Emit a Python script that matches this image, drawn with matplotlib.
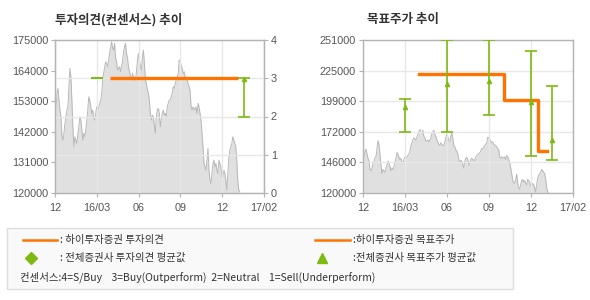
import numpy as np
import matplotlib
matplotlib.use('Agg')
from matplotlib import pyplot as plt
from matplotlib.patches import Rectangle
from matplotlib.lines import Line2D

plt.rcParams['font.family'] = ['Noto Sans CJK KR', 'DejaVu Sans']

# x axis: months since 2015-12 (ticks every quarter, as drawn)
tick_pos = [0, 3, 6, 9, 12, 15]
tick_lab = ['12', '16/03', '06', '09', '12', '17/02']

# daily close (2015-12 .. 2017-01)
price = [150400, 151000, 155800, 157600, 153400, 149800, 147400, 140200, 139000, 141400,
         145000, 147400, 149800, 151000, 158200, 164800, 161800, 153400, 143800, 136600,
         140200, 139000, 137800, 141400, 143800, 147400, 146200, 142600, 139000, 141400,
         140200, 142600, 146200, 149800, 154600, 153400, 151000, 148600, 149800, 146800,
         146200, 148600, 151000, 149800, 151000, 152200, 153400, 155800, 160600, 163000,
         165400, 167200, 166600, 165400, 167800, 170200, 172600, 174400, 172000, 171400,
         173800, 168400, 167200, 164200, 164800, 165400, 163600, 165400, 167200, 170800,
         172600, 173800, 170200, 168400, 165400, 163600, 161800, 160600, 163000, 161800,
         160600, 160600, 163600, 167800, 170200, 167800, 165400, 164200, 169000, 171400,
         166600, 160600, 159400, 157000, 155800, 153400, 148600, 146200, 148000, 147400,
         144400, 141400, 147400, 149800, 150400, 148600, 143800, 146200, 148600, 149800,
         148000, 148600, 147400, 151000, 152200, 153400, 153400, 154600, 155800, 158200,
         157600, 159400, 160600, 161800, 163000, 167800, 167200, 166000, 164800, 163000,
         163600, 161800, 161200, 160600, 159400, 158200, 157000, 151000, 149800, 151000,
         150400, 149800, 151000, 148600, 152200, 151000, 148600, 146200, 141400, 136600,
         130600, 129400, 128200, 131800, 136000, 128200, 124600, 123400, 127000, 130600,
         131800, 129400, 130600, 128200, 127000, 131800, 130600, 129400, 125800, 125800,
         128200, 127000, 124600, 121000, 127000, 133000, 135400, 136600, 137800, 140200,
         139000, 137800, 136600, 131800, 124600, 121000, 120400]
price_start, price_end = 0.0, 13.26

# 하이투자증권 투자의견 (1~4)
op_x = [3.95, 13.1]
op_y = [3, 3]
# 전체증권사 투자의견 평균 / 범위
cons_x = [3.0, 13.57]
cons_mean = [3.0, 2.97]
cons_lo = [3.0, 2.0]
cons_hi = [3.0, 3.0]

# 하이투자증권 목표주가
tp_x = [4.0, 10.1, 12.5, 13.15]
tp_y = [222000, 200000, 156000, 156000]
# 전체증권사 목표주가 평균 / 범위
tpc_x = [3.0, 6.0, 9.0, 12.0, 13.5]
tpc_mean = [194000, 213000, 215500, 197500, 165500]
tpc_lo = [172000, 172000, 186500, 151500, 148000]
tpc_hi = [200500, 251000, 251000, 241500, 211500]

ORANGE = '#ff7300'
GREEN = '#7dba12'
FILL = '#e0e0e0'
EDGE = '#b8b8b8'
GRID = '#e8e8e8'
SPINE = '#b4b4b4'
TXT = '#555555'
tfont = dict(family='Liberation Sans', size=7.8, color=TXT)

fig = plt.figure(figsize=(5.9, 3.0), dpi=100)
px = np.linspace(price_start, price_end, len(price))


def base(ax, lo, hi, ticks, labels):
    ax.fill_between(px, price, lo, color=FILL, lw=0, zorder=1)
    ax.plot(px, price, color=EDGE, lw=0.7, zorder=1.2)
    ax.set_xlim(0, 15)
    ax.set_ylim(lo, hi)
    ax.set_xticks(tick_pos)
    ax.set_xticklabels(tick_lab, **tfont)
    ax.set_yticks(ticks)
    ax.set_yticklabels(labels, **tfont)
    ax.tick_params(length=3, width=0.8, color=SPINE, pad=2)
    ax.tick_params(axis='x', pad=4)
    ax.grid(axis='x', color=GRID, lw=1)
    ax.set_axisbelow('line')
    for s in ax.spines.values():
        s.set_color(SPINE)
        s.set_linewidth(1)


# left chart: 투자의견
ax1 = fig.add_axes([55 / 590, 1 - 193 / 300, 209 / 590, 153 / 300])
lt = np.linspace(120000, 175000, 6)
base(ax1, 120000, 175000, lt, ['%d' % v for v in lt])
ax1b = ax1.twinx()
ax1b.set_ylim(0, 4)
ax1b.set_yticks([0, 1, 2, 3, 4])
ax1b.set_yticklabels(['0', '1', '2', '3', '4'], **tfont)
ax1b.tick_params(length=3, width=0.8, color=SPINE, pad=2)
ax1b.grid(axis='y', color=GRID, lw=1)
for s in ax1b.spines.values():
    s.set_color(SPINE)
ax1b.plot(op_x, op_y, color=ORANGE, lw=2.4, solid_capstyle='butt', zorder=3)
ax1b.errorbar(cons_x, cons_mean,
              yerr=[np.subtract(cons_mean, cons_lo), np.subtract(cons_hi, cons_mean)],
              fmt='none', ecolor=GREEN, elinewidth=1.2, capsize=4.5, capthick=1.2, zorder=4)
ax1b.plot(cons_x[1:], cons_mean[1:], '^', color=GREEN, ms=3, zorder=5)

# right chart: 목표주가
ax2 = fig.add_axes([363 / 590, 1 - 193 / 300, 210 / 590, 153 / 300])
rt = np.linspace(120000, 251000, 6)
base(ax2, 120000, 251000, rt, ['%d' % (round(v / 1000) * 1000) for v in rt])
ax2.grid(axis='y', color=GRID, lw=1)
ax2.plot(tp_x, tp_y, color=ORANGE, lw=2.4, drawstyle='steps-post', zorder=3)
ax2.errorbar(tpc_x, tpc_mean,
             yerr=[np.subtract(tpc_mean, tpc_lo), np.subtract(tpc_hi, tpc_mean)],
             fmt='^', color=GREEN, ms=3, ecolor=GREEN, elinewidth=1.2,
             capsize=4.5, capthick=1.2, zorder=4)

fig.text(55 / 590, 1 - 20 / 300, '투자의견(컨센서스) 추이', fontsize=9, fontweight='bold',
         color='#333333', va='center')
fig.text(367 / 590, 1 - 20 / 300, '목표주가 추이', fontsize=9, fontweight='bold',
         color='#333333', va='center')

# legend box
fig.patches.append(Rectangle((7 / 590, 1 - 289 / 300), 506 / 590, 61 / 300,
                             transform=fig.transFigure, facecolor='#f9f9f9',
                             edgecolor='#dddddd', lw=1, zorder=0))
r1, r2, r3 = 1 - 240 / 300, 1 - 258 / 300, 1 - 277 / 300
lg = dict(fontsize=7.5, color='#333333', va='center')
fig.lines.append(Line2D([23 / 590, 57 / 590], [r1, r1], transform=fig.transFigure,
                        color=ORANGE, lw=1.8))
fig.text(60 / 590, r1, ': 하이투자증권 투자의견', **lg)
fig.lines.append(Line2D([31 / 590], [r2], transform=fig.transFigure, marker='D',
                        color=GREEN, ms=6.5, lw=0))
fig.text(60 / 590, r2, ': 전체증권사 투자의견 평균값', **lg)
fig.lines.append(Line2D([315 / 590, 350 / 590], [r1, r1], transform=fig.transFigure,
                        color=ORANGE, lw=1.8))
fig.text(353 / 590, r1, ':하이투자증권 목표주가', **lg)
fig.lines.append(Line2D([322 / 590], [r2], transform=fig.transFigure, marker='^',
                        color=GREEN, ms=7, lw=0))
fig.text(353 / 590, r2, ':전체증권사 목표주가 평균값', **lg)
fig.text(20 / 590, r3, '컨센서스:4=S/Buy    3=Buy(Outperform)  2=Neutral    1=Sell(Underperform)',
         fontsize=7.5, color='#333333', va='center')

fig.savefig('out.png', dpi=100)
